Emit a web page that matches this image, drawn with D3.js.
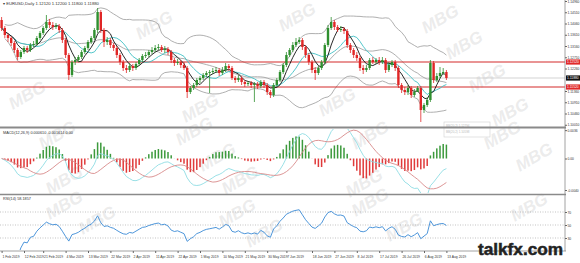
<!DOCTYPE html>
<html lang="en">
<head>
<meta charset="utf-8">
<script src="https://cdn.jsdelivr.net/npm/d3@7"></script>
<style>
body{margin:0;background:#fff;}
svg{display:block;font-family:"Liberation Sans",Arial,sans-serif;}
</style>
</head>
<body>
<script>
// daily candles, Feb - Aug 2019
var firstOpen = 1.1420;
var close = [1.1388,1.1360,1.1348,1.1328,1.1300,1.1272,1.1292,1.1308,1.1300,1.1320,
 1.1324,1.1348,1.1368,1.1388,1.1412,1.1400,1.1392,1.1396,1.1380,1.1340,
 1.1280,1.1200,1.1252,1.1260,1.1272,1.1292,1.1308,1.1332,1.1348,1.1380,
 1.1452,1.1380,1.1332,1.1340,1.1320,1.1308,1.1280,1.1252,1.1228,1.1220,
 1.1236,1.1228,1.1244,1.1260,1.1276,1.1280,1.1292,1.1300,1.1308,1.1312,
 1.1300,1.1304,1.1292,1.1260,1.1248,1.1252,1.1240,1.1228,1.1132,1.1148,
 1.1160,1.1180,1.1188,1.1200,1.1208,1.1212,1.1216,1.1220,1.1208,1.1220,
 1.1236,1.1228,1.1188,1.1180,1.1188,1.1172,1.1164,1.1168,1.1160,1.1164,
 1.1156,1.1172,1.1160,1.1132,1.1120,1.1160,1.1180,1.1212,1.1240,1.1280,
 1.1300,1.1320,1.1332,1.1340,1.1312,1.1280,1.1252,1.1220,1.1208,1.1228,
 1.1252,1.1320,1.1388,1.1412,1.1392,1.1380,1.1384,1.1376,1.1320,1.1300,
 1.1280,1.1268,1.1228,1.1220,1.1228,1.1260,1.1252,1.1260,1.1252,1.1260,
 1.1220,1.1240,1.1252,1.1228,1.1160,1.1140,1.1132,1.1148,1.1120,1.1132,
 1.1148,1.1060,1.1080,1.1100,1.1248,1.1180,1.1196,1.1208,1.1212,1.1188];
var high = [1.1432,1.1396,1.1368,1.1356,1.1336,1.1308,1.1300,1.1316,1.1316,1.1328,
 1.1336,1.1356,1.1376,1.1396,1.1440,1.1424,1.1412,1.1408,1.1404,1.1388,
 1.1348,1.1288,1.1260,1.1272,1.1280,1.1300,1.1316,1.1340,1.1356,1.1388,
 1.1468,1.1460,1.1388,1.1352,1.1348,1.1328,1.1316,1.1288,1.1260,1.1240,
 1.1248,1.1244,1.1252,1.1268,1.1284,1.1292,1.1300,1.1312,1.1320,1.1324,
 1.1320,1.1316,1.1312,1.1300,1.1268,1.1264,1.1260,1.1252,1.1236,1.1156,
 1.1168,1.1188,1.1196,1.1208,1.1216,1.1220,1.1228,1.1232,1.1228,1.1232,
 1.1248,1.1244,1.1236,1.1196,1.1200,1.1196,1.1180,1.1176,1.1176,1.1172,
 1.1172,1.1180,1.1180,1.1168,1.1140,1.1168,1.1188,1.1220,1.1248,1.1292,
 1.1308,1.1332,1.1348,1.1352,1.1348,1.1320,1.1288,1.1260,1.1232,1.1236,
 1.1260,1.1328,1.1400,1.1432,1.1420,1.1400,1.1396,1.1392,1.1384,1.1328,
 1.1308,1.1292,1.1276,1.1240,1.1240,1.1268,1.1272,1.1268,1.1272,1.1272,
 1.1268,1.1252,1.1260,1.1260,1.1236,1.1168,1.1152,1.1160,1.1156,1.1144,
 1.1156,1.1156,1.1088,1.1112,1.1260,1.1256,1.1208,1.1232,1.1228,1.1220];
var low = [1.1376,1.1348,1.1332,1.1316,1.1288,1.1260,1.1264,1.1284,1.1288,1.1292,
 1.1312,1.1316,1.1340,1.1360,1.1380,1.1388,1.1380,1.1384,1.1368,1.1328,
 1.1268,1.1180,1.1192,1.1240,1.1252,1.1264,1.1284,1.1300,1.1324,1.1340,
 1.1368,1.1368,1.1312,1.1320,1.1308,1.1296,1.1268,1.1240,1.1216,1.1208,
 1.1212,1.1216,1.1220,1.1236,1.1252,1.1268,1.1272,1.1284,1.1292,1.1300,
 1.1292,1.1288,1.1280,1.1248,1.1236,1.1240,1.1228,1.1220,1.1108,1.1124,
 1.1140,1.1152,1.1168,1.1180,1.1192,1.1128,1.1204,1.1208,1.1196,1.1200,
 1.1212,1.1216,1.1180,1.1168,1.1172,1.1160,1.1152,1.1156,1.1148,1.1092,
 1.1144,1.1148,1.1148,1.1120,1.1108,1.1112,1.1152,1.1172,1.1204,1.1232,
 1.1272,1.1292,1.1312,1.1324,1.1300,1.1268,1.1240,1.1208,1.1180,1.1200,
 1.1220,1.1244,1.1312,1.1380,1.1380,1.1372,1.1372,1.1364,1.1308,1.1288,
 1.1268,1.1256,1.1216,1.1204,1.1212,1.1220,1.1244,1.1244,1.1240,1.1244,
 1.1208,1.1212,1.1232,1.1216,1.1148,1.1128,1.1120,1.1120,1.1108,1.1112,
 1.1136,1.1012,1.1048,1.1072,1.1092,1.1168,1.1172,1.1188,1.1200,1.1180];

var priceTicks = [1.1496,1.1451,1.1406,1.1361,1.1316,1.1271,1.1226,1.1181,1.1136,1.1091,1.1046,1.1001];
var levels = [1.1252,1.1152];
var dateLabels = ["1 Feb 2019","12 Feb 2019","21 Feb 2019","4 Mar 2019","13 Mar 2019","22 Mar 2019",
 "2 Apr 2019","11 Apr 2019","22 Apr 2019","1 May 2019","10 May 2019","21 May 2019","30 May 2019",
 "7 Jun 2019","18 Jun 2019","27 Jun 2019","8 Jul 2019","17 Jul 2019","26 Jul 2019","6 Aug 2019","13 Aug 2019"];
var dateIdx = [0,7,13,20,27,34,41,48,55,62,69,76,83,89,97,104,111,118,125,132,139];
var macdTicks = [0.0036,0,-0.004];
var rsiLevels = [70,50,30];
var macdLabel = "MACD(12,26,9) 0.000610 -0.001614 0.00";
var rsiLabel = "RSI(14) 58.1857";

var open = [firstOpen].concat(close.slice(0, -1));

// indicator helpers
function sma(a, n){ return a.map(function(v,i){ return d3.mean(a.slice(Math.max(0,i-n+1), i+1)); }); }
function sdev(a, n){ return a.map(function(v,i){ var s=a.slice(Math.max(0,i-n+1), i+1), m=d3.mean(s); return Math.sqrt(d3.mean(s, function(d){return (d-m)*(d-m);})); }); }
function ema(a, n){ var k=2/(n+1), o=[]; a.forEach(function(v,i){ o.push(i ? o[i-1]+k*(v-o[i-1]) : v); }); return o; }

var mid = sma(close,20), dev = sdev(close,20);
var upper = mid.map(function(m,i){ return m+2*dev[i]; });
var lower = mid.map(function(m,i){ return m-2*dev[i]; });
var ma5 = sma(close,5), ma10 = sma(close,10);
var e12 = ema(close,12), e26 = ema(close,26);
var macd = e12.map(function(v,i){ return v-e26[i]; });
var signal = sma(macd,9);
var hist = macd.map(function(v,i){ return v-signal[i]; });

var rsi = [null], ag=0, al=0;
for (var i=1;i<close.length;i++){
  var ch=close[i]-close[i-1], g=Math.max(ch,0), l=Math.max(-ch,0), n=Math.min(i,14);
  ag=(ag*(n-1)+g)/n; al=(al*(n-1)+l)/n;
  rsi.push(al===0 ? 100 : 100-100/(1+ag/al));
}

var W=580, H=263, AX=565;
var svg = d3.select("body").append("svg").attr("width",W).attr("height",H);

var x = d3.scaleLinear().domain([0,1]).range([1.6,4.8]);
var y = d3.scaleLinear().domain([1.10,1.15]).range([125,0]);
var yM = d3.scaleLinear().domain([-0.004,0.004]).range([190,127]);
var yR = d3.scaleLinear().domain([30,70]).range([238,212]);
var line = function(yy){ return d3.line().x(function(d,i){return x(i);}).y(function(d){return yy(d);}); };

svg.append("defs").selectAll("clipPath").data([["cMain",0,127],["cMacd",129,193],["cRsi",196,250]])
  .enter().append("clipPath").attr("id",function(d){return d[0];})
  .append("rect").attr("x",0).attr("y",function(d){return d[1];}).attr("width",AX).attr("height",function(d){return d[2]-d[1];});

// watermarks (under the marks)
var wm = [[30,100],[157,30],[300,22],[203,113],[340,107],[443,24],[467,50],[490,83],[513,117],
  [60,140],[197,136],[220,162],[67,185],[243,185],[373,140],[367,188],[537,162],[505,140],
  [67,210],[100,225],[240,218],[267,238],[373,207],[407,232],[532,212]];
svg.append("g").selectAll("text").data(wm).enter().append("text")
  .attr("transform",function(d){return "translate("+d[0]+","+d[1]+") rotate(-30)";})
  .attr("text-anchor","middle").attr("font-size",17).attr("font-weight","bold").attr("font-style","italic")
  .attr("fill","#d4d4d4").attr("fill-opacity",0.45).text("MBG");

// ---- main panel
var main = svg.append("g").attr("clip-path","url(#cMain)");
var last = close.length-1;
main.append("line").attr("x1",0).attr("x2",AX).attr("y1",y(close[last])).attr("y2",y(close[last]))
  .attr("stroke","#c8c8c8").attr("stroke-width",0.8);
[upper,mid,lower].forEach(function(b){
  main.append("path").datum(b).attr("d",d3.line().defined(function(d,i){return i>0;}).x(function(d,i){return x(i);}).y(function(d){return y(d);}))
    .attr("fill","none").attr("stroke","#9a9a9a").attr("stroke-width",0.8);
});
levels.forEach(function(v){
  main.append("line").attr("x1",0).attr("x2",AX).attr("y1",y(v)).attr("y2",y(v)).attr("stroke","#d42a2a").attr("stroke-width",1.1);
});
main.append("path").datum(ma10).attr("d",line(y)).attr("fill","none").attr("stroke","#3fbfc4").attr("stroke-width",0.9);
main.append("path").datum(ma5).attr("d",line(y)).attr("fill","none").attr("stroke","#111").attr("stroke-width",0.9);

var cg = main.selectAll("g.c").data(close).enter().append("g").attr("class","c");
cg.append("line").attr("x1",function(d,i){return x(i);}).attr("x2",function(d,i){return x(i);})
  .attr("y1",function(d,i){return y(high[i]);}).attr("y2",function(d,i){return y(low[i]);})
  .attr("stroke",function(d,i){return d>=open[i]?"#2f8f2f":"#e02626";}).attr("stroke-width",0.8);
cg.append("rect").attr("x",function(d,i){return x(i)-1.2;}).attr("width",2.4)
  .attr("y",function(d,i){return y(Math.max(d,open[i]));})
  .attr("height",function(d,i){return Math.max(0.8, Math.abs(y(d)-y(open[i])));})
  .attr("fill",function(d,i){return d>=open[i]?"#2f8f2f":"#e02626";});

svg.append("text").attr("x",3).attr("y",5).attr("font-size",4.2).attr("fill","#333")
  .text("\u25BE  EURUSD,Daily  "+[open,high,low,close].map(function(a){return a[last].toFixed(5);}).join(" "));

// small object box near the last bars
svg.append("rect").attr("x",444).attr("y",122).attr("width",46).attr("height",15)
  .attr("fill","#fff").attr("fill-opacity",0.6).attr("stroke","#d0d0d0").attr("stroke-width",0.6);
svg.append("text").attr("x",446).attr("y",127).attr("font-size",3).attr("fill","#bbb").text("BB(20,2) " + upper[last].toFixed(5));
svg.append("text").attr("x",446).attr("y",133).attr("font-size",3).attr("fill","#bbb").text("BB(20,2) " + lower[last].toFixed(5));

// ---- MACD panel
var mg = svg.append("g").attr("clip-path","url(#cMacd)");
mg.selectAll("rect").data(hist).enter().append("rect")
  .attr("x",function(d,i){return x(i)-0.75;}).attr("width",1.5)
  .attr("y",function(d){return Math.min(yM(d),yM(0));})
  .attr("height",function(d){return Math.abs(yM(d)-yM(0));})
  .attr("fill",function(d){return d>=0?"#3c9a3c":"#e03a3a";});
mg.append("path").datum(macd).attr("d",line(yM)).attr("fill","none").attr("stroke","#8fdde3").attr("stroke-width",0.9);
mg.append("path").datum(signal).attr("d",line(yM)).attr("fill","none").attr("stroke","#d88a8a").attr("stroke-width",0.9);
svg.append("text").attr("x",3).attr("y",133.5).attr("font-size",3.8).attr("fill","#333").text(macdLabel);

// ---- RSI panel
var rg = svg.append("g").attr("clip-path","url(#cRsi)");
rsiLevels.forEach(function(v){
  rg.append("line").attr("x1",0).attr("x2",AX).attr("y1",yR(v)).attr("y2",yR(v))
    .attr("stroke","#9a9a9a").attr("stroke-width",0.6).attr("stroke-dasharray","1,1.5");
});
rg.append("path").datum(rsi).attr("d",d3.line().defined(function(d){return d!==null;}).x(function(d,i){return x(i);}).y(function(d){return yR(d);}))
  .attr("fill","none").attr("stroke","#3a8ad6").attr("stroke-width",0.9);
svg.append("text").attr("x",3).attr("y",200).attr("font-size",3.8).attr("fill","#333").text(rsiLabel);

// ---- frame
[[127.5,1.8],[194.5,1.6],[251,0.8]].forEach(function(s){
  svg.append("line").attr("x1",0).attr("x2",AX+1).attr("y1",s[0]).attr("y2",s[0]).attr("stroke","#8a8a8a").attr("stroke-width",s[1]);
});
svg.append("line").attr("x1",AX).attr("x2",AX).attr("y1",0).attr("y2",251).attr("stroke","#8a8a8a").attr("stroke-width",0.8);

// right axes; ticks hidden behind the price tags are left out
var tags = levels.concat([close[last]]);
var shown = priceTicks.filter(function(t){ return tags.every(function(v){ return Math.abs(y(t)-y(v))>4; }); });
var ax1 = svg.append("g").attr("transform","translate("+AX+",0)")
  .call(d3.axisRight(y).tickValues(shown).tickFormat(d3.format(".5f")).tickSize(2));
var ax2 = svg.append("g").attr("transform","translate("+AX+",0)")
  .call(d3.axisRight(yM).tickValues(macdTicks).tickFormat(function(d){return d===0?"0.00":d.toFixed(4);}).tickSize(2));
var ax3 = svg.append("g").attr("transform","translate("+AX+",0)")
  .call(d3.axisRight(yR).tickValues(rsiLevels).tickSize(2));
[ax1,ax2,ax3].forEach(function(a){
  a.select(".domain").remove();
  a.selectAll("text").attr("font-size",3.3).attr("fill","#333").attr("x",2.5);
  a.selectAll("line").attr("stroke","#666");
});

// level / price tags on the axis
tags.forEach(function(v,k){
  svg.append("rect").attr("x",AX+1).attr("y",y(v)-2.6).attr("width",W-AX-1).attr("height",5.2).attr("fill",k<2?"#e02a2a":"#111");
  svg.append("text").attr("x",AX+2).attr("y",y(v)+1.2).attr("font-size",3.3).attr("fill","#fff").text(v.toFixed(5));
});

// date axis
var ax4 = svg.append("g").attr("transform","translate(0,251)")
  .call(d3.axisBottom(x).tickValues(dateIdx).tickFormat(function(d,k){return dateLabels[k];}).tickSize(2));
ax4.select(".domain").remove();
ax4.selectAll("text").attr("font-size",3.4).attr("fill","#333").attr("text-anchor","start").attr("dx",0.3).attr("y",4.5);
ax4.selectAll("line").attr("stroke","#666");

svg.append("text").attr("x",478).attr("y",255).attr("font-size",17.2).attr("font-weight","bold")
  .attr("font-family","'Liberation Sans',Arial,sans-serif")
  .attr("fill","#222").attr("stroke","#222").attr("stroke-width",0.5).text("talkfx.com");
</script>
</body>
</html>
